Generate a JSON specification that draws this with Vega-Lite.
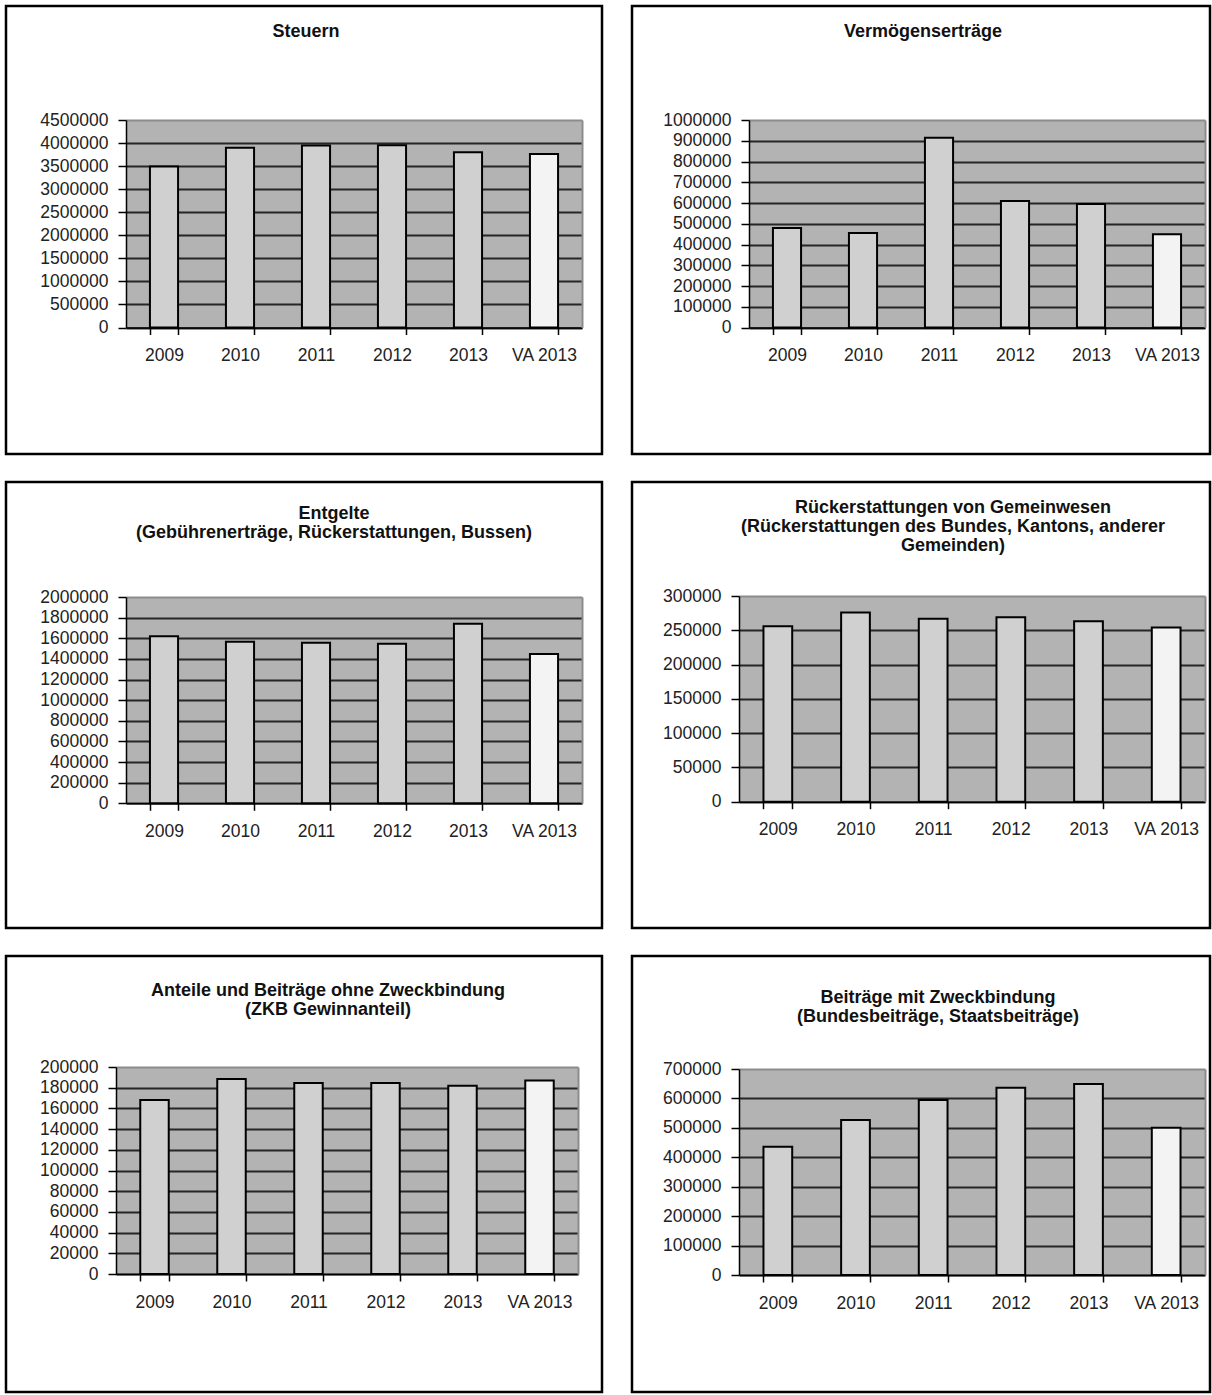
{
  "$schema": "https://vega.github.io/schema/vega-lite/v6.json",
  "background": "white",
  "padding": {"left": 4, "top": 4, "right": 0, "bottom": 0},
  "data": {"values": [
    {"bereich": "Steuern", "jahr": "2009", "wert": 3490000},
    {"bereich": "Steuern", "jahr": "2010", "wert": 3900000},
    {"bereich": "Steuern", "jahr": "2011", "wert": 3945000},
    {"bereich": "Steuern", "jahr": "2012", "wert": 3955000},
    {"bereich": "Steuern", "jahr": "2013", "wert": 3800000},
    {"bereich": "Steuern", "jahr": "VA 2013", "wert": 3760000},
    {"bereich": "Vermögenserträge", "jahr": "2009", "wert": 480000},
    {"bereich": "Vermögenserträge", "jahr": "2010", "wert": 455000},
    {"bereich": "Vermögenserträge", "jahr": "2011", "wert": 915000},
    {"bereich": "Vermögenserträge", "jahr": "2012", "wert": 610000},
    {"bereich": "Vermögenserträge", "jahr": "2013", "wert": 595000},
    {"bereich": "Vermögenserträge", "jahr": "VA 2013", "wert": 450000},
    {"bereich": "Entgelte", "jahr": "2009", "wert": 1620000},
    {"bereich": "Entgelte", "jahr": "2010", "wert": 1567000},
    {"bereich": "Entgelte", "jahr": "2011", "wert": 1557000},
    {"bereich": "Entgelte", "jahr": "2012", "wert": 1547000},
    {"bereich": "Entgelte", "jahr": "2013", "wert": 1740000},
    {"bereich": "Entgelte", "jahr": "VA 2013", "wert": 1447000},
    {"bereich": "Rückerstattungen von Gemeinwesen", "jahr": "2009", "wert": 256000},
    {"bereich": "Rückerstattungen von Gemeinwesen", "jahr": "2010", "wert": 276000},
    {"bereich": "Rückerstattungen von Gemeinwesen", "jahr": "2011", "wert": 267000},
    {"bereich": "Rückerstattungen von Gemeinwesen", "jahr": "2012", "wert": 269000},
    {"bereich": "Rückerstattungen von Gemeinwesen", "jahr": "2013", "wert": 263000},
    {"bereich": "Rückerstattungen von Gemeinwesen", "jahr": "VA 2013", "wert": 254000},
    {"bereich": "Anteile und Beiträge ohne Zweckbindung", "jahr": "2009", "wert": 168000},
    {"bereich": "Anteile und Beiträge ohne Zweckbindung", "jahr": "2010", "wert": 188500},
    {"bereich": "Anteile und Beiträge ohne Zweckbindung", "jahr": "2011", "wert": 184500},
    {"bereich": "Anteile und Beiträge ohne Zweckbindung", "jahr": "2012", "wert": 184500},
    {"bereich": "Anteile und Beiträge ohne Zweckbindung", "jahr": "2013", "wert": 182000},
    {"bereich": "Anteile und Beiträge ohne Zweckbindung", "jahr": "VA 2013", "wert": 187000},
    {"bereich": "Beiträge mit Zweckbindung", "jahr": "2009", "wert": 436000},
    {"bereich": "Beiträge mit Zweckbindung", "jahr": "2010", "wert": 527000},
    {"bereich": "Beiträge mit Zweckbindung", "jahr": "2011", "wert": 595000},
    {"bereich": "Beiträge mit Zweckbindung", "jahr": "2012", "wert": 636000},
    {"bereich": "Beiträge mit Zweckbindung", "jahr": "2013", "wert": 649000},
    {"bereich": "Beiträge mit Zweckbindung", "jahr": "VA 2013", "wert": 500000}
  ]},
  "spacing": 24,
  "vconcat": [
    {
      "spacing": 26,
      "hconcat": [
        {
          "width": 596, "height": 448,
          "title": {"text": "Steuern", "offset": -35, "dx": 2},
          "transform": [{"filter": "datum.bereich === 'Steuern'"}],
          "layer": [
            {"mark": {"type": "bar", "opacity": 0},
             "encoding": {
               "x": {"field": "jahr", "type": "nominal", "axis": null},
               "y": {"field": "wert", "type": "quantitative", "axis": {"orient": "left", "zindex": 0, "values": [2250000], "grid": true, "gridColor": "#b3b3b3", "gridWidth": 207.5, "domain": false, "ticks": false, "labels": false, "title": null}}
             }},
            {"mark": {"type": "bar", "stroke": "#000", "strokeWidth": 2},
             "encoding": {
               "x": {"field": "jahr", "type": "nominal", "scale": {"domain": ["2009", "2010", "2011", "2012", "2013", "VA 2013"], "range": [120, 576], "paddingInner": 0.63, "paddingOuter": 0.315}, "axis": {"orient": "bottom", "offset": -126.5, "zindex": 1, "title": null}},
               "y": {"field": "wert", "type": "quantitative", "scale": {"domain": [0, 4500000], "nice": false, "range": [321.5, 114]}, "axis": {"orient": "left", "offset": -120, "zindex": 0, "values": [0, 500000, 1000000, 1500000, 2000000, 2500000, 3000000, 3500000, 4000000, 4500000], "format": "d", "grid": true, "gridColor": {"condition": {"test": "datum.value >= 4500000", "value": "#8c8c8c"}, "value": "#262626"}, "title": null}},
               "fill": {"condition": {"test": "datum.jahr === 'VA 2013'", "value": "#f3f3f3"}, "value": "#d0d0d0"}
             }},
            {"mark": {"type": "bar", "opacity": 0},
             "encoding": {
               "x": {"field": "jahr", "type": "nominal", "axis": null},
               "y": {"field": "wert", "type": "quantitative", "axis": {"orient": "right", "offset": -20, "zindex": 1, "grid": false, "domainColor": "#8c8c8c", "domainWidth": 2, "ticks": false, "labels": false, "title": null}}
             }}
          ],
          "resolve": {"axis": {"x": "independent", "y": "independent"}}
        },
        {
          "width": 578, "height": 448,
          "title": {"text": "Vermögenserträge", "offset": -35, "dx": 2},
          "transform": [{"filter": "datum.bereich === 'Vermögenserträge'"}],
          "layer": [
            {"mark": {"type": "bar", "opacity": 0},
             "encoding": {
               "x": {"field": "jahr", "type": "nominal", "axis": null},
               "y": {"field": "wert", "type": "quantitative", "axis": {"orient": "left", "zindex": 0, "values": [500000], "grid": true, "gridColor": "#b3b3b3", "gridWidth": 207.5, "domain": false, "ticks": false, "labels": false, "title": null}}
             }},
            {"mark": {"type": "bar", "stroke": "#000", "strokeWidth": 2},
             "encoding": {
               "x": {"field": "jahr", "type": "nominal", "scale": {"domain": ["2009", "2010", "2011", "2012", "2013", "VA 2013"], "range": [117, 573], "paddingInner": 0.63, "paddingOuter": 0.315}, "axis": {"orient": "bottom", "offset": -126.5, "zindex": 1, "title": null}},
               "y": {"field": "wert", "type": "quantitative", "scale": {"domain": [0, 1000000], "nice": false, "range": [321.5, 114]}, "axis": {"orient": "left", "offset": -117, "zindex": 0, "values": [0, 100000, 200000, 300000, 400000, 500000, 600000, 700000, 800000, 900000, 1000000], "format": "d", "grid": true, "gridColor": {"condition": {"test": "datum.value >= 1000000", "value": "#8c8c8c"}, "value": "#262626"}, "title": null}},
               "fill": {"condition": {"test": "datum.jahr === 'VA 2013'", "value": "#f3f3f3"}, "value": "#d0d0d0"}
             }},
            {"mark": {"type": "bar", "opacity": 0},
             "encoding": {
               "x": {"field": "jahr", "type": "nominal", "axis": null},
               "y": {"field": "wert", "type": "quantitative", "axis": {"orient": "right", "offset": -5, "zindex": 1, "grid": false, "domainColor": "#8c8c8c", "domainWidth": 2, "ticks": false, "labels": false, "title": null}}
             }}
          ],
          "resolve": {"axis": {"x": "independent", "y": "independent"}}
        }
      ]
    },
    {
      "spacing": 26,
      "hconcat": [
        {
          "width": 596, "height": 446,
          "title": {"text": ["Entgelte", "(Gebührenerträge, Rückerstattungen, Bussen)"], "offset": -60, "dx": 30},
          "transform": [{"filter": "datum.bereich === 'Entgelte'"}],
          "layer": [
            {"mark": {"type": "bar", "opacity": 0},
             "encoding": {
               "x": {"field": "jahr", "type": "nominal", "axis": null},
               "y": {"field": "wert", "type": "quantitative", "axis": {"orient": "left", "zindex": 0, "values": [1000000], "grid": true, "gridColor": "#b3b3b3", "gridWidth": 206.3, "domain": false, "ticks": false, "labels": false, "title": null}}
             }},
            {"mark": {"type": "bar", "stroke": "#000", "strokeWidth": 2},
             "encoding": {
               "x": {"field": "jahr", "type": "nominal", "scale": {"domain": ["2009", "2010", "2011", "2012", "2013", "VA 2013"], "range": [120, 576], "paddingInner": 0.63, "paddingOuter": 0.315}, "axis": {"orient": "bottom", "offset": -124.7, "zindex": 1, "title": null}},
               "y": {"field": "wert", "type": "quantitative", "scale": {"domain": [0, 2000000], "nice": false, "range": [321.3, 115]}, "axis": {"orient": "left", "offset": -120, "zindex": 0, "values": [0, 200000, 400000, 600000, 800000, 1000000, 1200000, 1400000, 1600000, 1800000, 2000000], "format": "d", "grid": true, "gridColor": {"condition": {"test": "datum.value >= 2000000", "value": "#8c8c8c"}, "value": "#262626"}, "title": null}},
               "fill": {"condition": {"test": "datum.jahr === 'VA 2013'", "value": "#f3f3f3"}, "value": "#d0d0d0"}
             }},
            {"mark": {"type": "bar", "opacity": 0},
             "encoding": {
               "x": {"field": "jahr", "type": "nominal", "axis": null},
               "y": {"field": "wert", "type": "quantitative", "axis": {"orient": "right", "offset": -20, "zindex": 1, "grid": false, "domainColor": "#8c8c8c", "domainWidth": 2, "ticks": false, "labels": false, "title": null}}
             }}
          ],
          "resolve": {"axis": {"x": "independent", "y": "independent"}}
        },
        {
          "width": 578, "height": 446,
          "title": {"text": ["Rückerstattungen von Gemeinwesen", "(Rückerstattungen des Bundes, Kantons, anderer", "Gemeinden)"], "offset": -73, "dx": 32},
          "transform": [{"filter": "datum.bereich === 'Rückerstattungen von Gemeinwesen'"}],
          "layer": [
            {"mark": {"type": "bar", "opacity": 0},
             "encoding": {
               "x": {"field": "jahr", "type": "nominal", "axis": null},
               "y": {"field": "wert", "type": "quantitative", "axis": {"orient": "left", "zindex": 0, "values": [150000], "grid": true, "gridColor": "#b3b3b3", "gridWidth": 205.7, "domain": false, "ticks": false, "labels": false, "title": null}}
             }},
            {"mark": {"type": "bar", "stroke": "#000", "strokeWidth": 2},
             "encoding": {
               "x": {"field": "jahr", "type": "nominal", "scale": {"domain": ["2009", "2010", "2011", "2012", "2013", "VA 2013"], "range": [107, 573], "paddingInner": 0.63, "paddingOuter": 0.315}, "axis": {"orient": "bottom", "offset": -126.3, "zindex": 1, "title": null}},
               "y": {"field": "wert", "type": "quantitative", "scale": {"domain": [0, 300000], "nice": false, "range": [319.7, 114]}, "axis": {"orient": "left", "offset": -107, "zindex": 0, "values": [0, 50000, 100000, 150000, 200000, 250000, 300000], "format": "d", "grid": true, "gridColor": {"condition": {"test": "datum.value >= 300000", "value": "#8c8c8c"}, "value": "#262626"}, "title": null}},
               "fill": {"condition": {"test": "datum.jahr === 'VA 2013'", "value": "#f3f3f3"}, "value": "#d0d0d0"}
             }},
            {"mark": {"type": "bar", "opacity": 0},
             "encoding": {
               "x": {"field": "jahr", "type": "nominal", "axis": null},
               "y": {"field": "wert", "type": "quantitative", "axis": {"orient": "right", "offset": -5, "zindex": 1, "grid": false, "domainColor": "#8c8c8c", "domainWidth": 2, "ticks": false, "labels": false, "title": null}}
             }}
          ],
          "resolve": {"axis": {"x": "independent", "y": "independent"}}
        }
      ]
    },
    {
      "spacing": 26,
      "hconcat": [
        {
          "width": 596, "height": 436,
          "title": {"text": ["Anteile und Beiträge ohne Zweckbindung", "(ZKB Gewinnanteil)"], "offset": -63, "dx": 24},
          "transform": [{"filter": "datum.bereich === 'Anteile und Beiträge ohne Zweckbindung'"}],
          "layer": [
            {"mark": {"type": "bar", "opacity": 0},
             "encoding": {
               "x": {"field": "jahr", "type": "nominal", "axis": null},
               "y": {"field": "wert", "type": "quantitative", "axis": {"orient": "left", "zindex": 0, "values": [100000], "grid": true, "gridColor": "#b3b3b3", "gridWidth": 207, "domain": false, "ticks": false, "labels": false, "title": null}}
             }},
            {"mark": {"type": "bar", "stroke": "#000", "strokeWidth": 2},
             "encoding": {
               "x": {"field": "jahr", "type": "nominal", "scale": {"domain": ["2009", "2010", "2011", "2012", "2013", "VA 2013"], "range": [110, 572], "paddingInner": 0.63, "paddingOuter": 0.315}, "axis": {"orient": "bottom", "offset": -118, "zindex": 1, "title": null}},
               "y": {"field": "wert", "type": "quantitative", "scale": {"domain": [0, 200000], "nice": false, "range": [318, 111]}, "axis": {"orient": "left", "offset": -110, "zindex": 0, "values": [0, 20000, 40000, 60000, 80000, 100000, 120000, 140000, 160000, 180000, 200000], "format": "d", "grid": true, "gridColor": {"condition": {"test": "datum.value >= 200000", "value": "#8c8c8c"}, "value": "#262626"}, "title": null}},
               "fill": {"condition": {"test": "datum.jahr === 'VA 2013'", "value": "#f3f3f3"}, "value": "#d0d0d0"}
             }},
            {"mark": {"type": "bar", "opacity": 0},
             "encoding": {
               "x": {"field": "jahr", "type": "nominal", "axis": null},
               "y": {"field": "wert", "type": "quantitative", "axis": {"orient": "right", "offset": -24, "zindex": 1, "grid": false, "domainColor": "#8c8c8c", "domainWidth": 2, "ticks": false, "labels": false, "title": null}}
             }}
          ],
          "resolve": {"axis": {"x": "independent", "y": "independent"}}
        },
        {
          "width": 578, "height": 436,
          "title": {"text": ["Beiträge mit Zweckbindung", "(Bundesbeiträge, Staatsbeiträge)"], "offset": -70, "dx": 17},
          "transform": [{"filter": "datum.bereich === 'Beiträge mit Zweckbindung'"}],
          "layer": [
            {"mark": {"type": "bar", "opacity": 0},
             "encoding": {
               "x": {"field": "jahr", "type": "nominal", "axis": null},
               "y": {"field": "wert", "type": "quantitative", "axis": {"orient": "left", "zindex": 0, "values": [350000], "grid": true, "gridColor": "#b3b3b3", "gridWidth": 206, "domain": false, "ticks": false, "labels": false, "title": null}}
             }},
            {"mark": {"type": "bar", "stroke": "#000", "strokeWidth": 2},
             "encoding": {
               "x": {"field": "jahr", "type": "nominal", "scale": {"domain": ["2009", "2010", "2011", "2012", "2013", "VA 2013"], "range": [107, 573], "paddingInner": 0.63, "paddingOuter": 0.315}, "axis": {"orient": "bottom", "offset": -117, "zindex": 1, "title": null}},
               "y": {"field": "wert", "type": "quantitative", "scale": {"domain": [0, 700000], "nice": false, "range": [319, 113]}, "axis": {"orient": "left", "offset": -107, "zindex": 0, "values": [0, 100000, 200000, 300000, 400000, 500000, 600000, 700000], "format": "d", "grid": true, "gridColor": {"condition": {"test": "datum.value >= 700000", "value": "#8c8c8c"}, "value": "#262626"}, "title": null}},
               "fill": {"condition": {"test": "datum.jahr === 'VA 2013'", "value": "#f3f3f3"}, "value": "#d0d0d0"}
             }},
            {"mark": {"type": "bar", "opacity": 0},
             "encoding": {
               "x": {"field": "jahr", "type": "nominal", "axis": null},
               "y": {"field": "wert", "type": "quantitative", "axis": {"orient": "right", "offset": -5, "zindex": 1, "grid": false, "domainColor": "#8c8c8c", "domainWidth": 2, "ticks": false, "labels": false, "title": null}}
             }}
          ],
          "resolve": {"axis": {"x": "independent", "y": "independent"}}
        }
      ]
    }
  ],
  "config": {
    "font": "Liberation Sans",
    "view": {"stroke": "#000", "strokeWidth": 2.5, "fill": "#ffffff"},
    "title": {"font": "Liberation Sans", "fontSize": 18, "fontWeight": "bold", "color": "#111", "anchor": "middle", "frame": "group", "baseline": "top", "lineHeight": 19},
    "axis": {"domainColor": "#000", "domainWidth": 1.5, "tickColor": "#000", "tickWidth": 1.5, "labelFont": "Liberation Sans", "labelFontSize": 17.5, "labelColor": "#222", "gridColor": "#262626", "gridWidth": 1.8},
    "axisX": {"tickBand": "extent", "tickSize": 7, "labelPadding": 12, "labelAngle": 0},
    "axisY": {"tickSize": 8, "labelPadding": 10, "labelFlush": false, "labelOverlap": false}
  }
}
